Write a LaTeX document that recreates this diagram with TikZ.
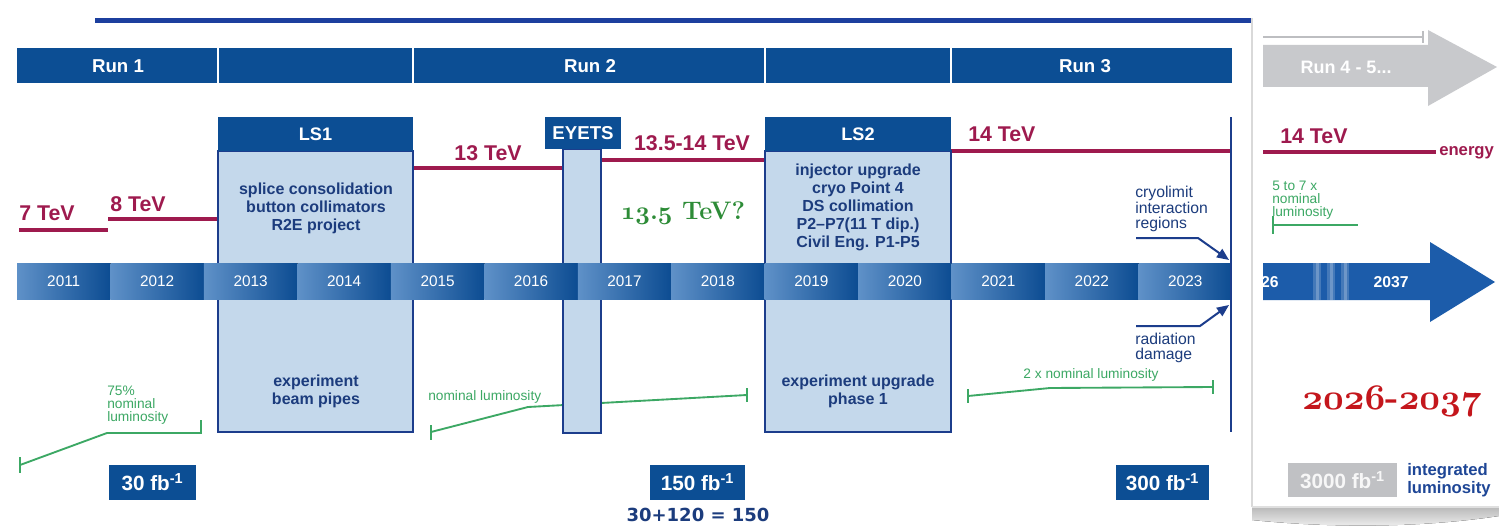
\documentclass[tikz,border=0pt]{standalone}
\usepackage{fontspec}
\setmainfont{Liberation Sans}
\newfontfamily\djv{DejaVu Sans}
\newfontfamily\lmr{Latin Modern Roman}
\DeclareFontFamily{OML}{osfb}{\skewchar\font'177}
\DeclareFontShape{OML}{osfb}{b}{it}{<-> cmmib10}{}
\newcommand\osnum[1]{{\usefont{OML}{osfb}{b}{it}#1}}
\usetikzlibrary{arrows.meta}
\definecolor{navy}{RGB}{12,78,148}
\definecolor{topblue}{RGB}{28,63,158}
\definecolor{boxfill}{RGB}{196,216,235}
\definecolor{boxline}{RGB}{28,61,140}
\definecolor{crim}{RGB}{158,26,78}
\definecolor{lgreen}{RGB}{60,168,100}
\definecolor{dgreen}{RGB}{45,140,55}
\definecolor{txtblue}{RGB}{28,60,125}
\definecolor{intblue}{RGB}{30,70,150}
\definecolor{greyarrow}{RGB}{200,201,204}
\definecolor{greybox}{RGB}{192,193,196}
\definecolor{hred}{RGB}{196,22,28}
\definecolor{ylight}{RGB}{95,145,200}
\definecolor{ydark}{RGB}{12,76,146}
\definecolor{arrowblue}{RGB}{28,92,170}
\definecolor{stripe}{RGB}{115,162,215}
\begin{document}
\begin{tikzpicture}[x=0.75pt,y=-0.75pt,
  runlbl/.style={text=white,font=\bfseries\fontsize{14}{16}\selectfont,inner sep=0pt},
  tev/.style={text=crim,font=\bfseries\fontsize{16}{18}\selectfont,inner sep=0pt},
  elin/.style={crim,line width=3pt},
  boxbody/.style={fill=boxfill,draw=boxline,line width=1.5pt},
  hdr/.style={text=white,font=\bfseries\fontsize{13.6}{15}\selectfont,inner sep=0pt},
  btxt/.style={text=txtblue,font=\bfseries\fontsize{12}{13.5}\selectfont,align=center,inner sep=0pt},
  yr/.style={text=white,font=\fontsize{11.5}{13}\selectfont,inner sep=0pt},
  gl/.style={lgreen,line width=1.4pt},
  gtxt/.style={text=lgreen,font=\fontsize{10.3}{9.9}\selectfont,align=left,inner sep=0pt},
  fbbox/.style={fill=navy,text=white,font=\bfseries\fontsize{15.5}{17}\selectfont,inner sep=0pt,minimum height=26.25pt},
  note/.style={text=txtblue,font=\fontsize{11.8}{11.4}\selectfont,align=left,inner sep=0pt},
  parr/.style={-{Triangle[length=9pt,width=7.5pt]},draw=boxline,line width=1.5pt}]
\useasboundingbox (0,0) rectangle (1499,528);
\fill[white] (0,0) rectangle (1499,528);

% top line
\coordinate (tl1) at (95,20.5);
\coordinate (tl2) at (1252,20.5);
\draw[topblue,line width=3.75pt] (tl1) -- (tl2);

% run bar
\fill[navy] (17,48) rectangle (1232,83);
\foreach \x in {218,413,765,951} \draw[white,line width=1pt] (\x,48) -- (\x,83);
\node[runlbl] (run1) at (118,66) {Run 1};
\node[runlbl] (run2) at (590,66) {Run 2};
\node[runlbl] (run3) at (1085,66) {Run 3};

% energy lines
\draw[elin] (19,230) -- (108,230);
\draw[elin] (108,219) -- (218,219);
\draw[elin] (413,168) -- (562,168);
\draw[elin] (601,160) -- (765,160);
\draw[elin] (951,151) -- (1231,151);
\node[tev,anchor=base west] (e7) at (19,220) {7 TeV};
\node[tev,anchor=base west] (e8) at (110,211) {8 TeV};
\node[tev,anchor=base] (e13) at (488,160) {13 TeV};
\node[tev,anchor=base] (e135) at (692,150) {13.5-14 TeV};
\node[tev,anchor=base west] (e14) at (968,142) {14 TeV};

% green luminosity lines
\draw[gl] (20,465) -- (107,433) -- (201,433);
\draw[gl] (20,457) -- (20,473);
\draw[gl] (201,420) -- (201,434);
\node[gtxt,anchor=west] (l75) at (107,405) {75\%\\nominal\\luminosity};
\draw[gl] (431,432) -- (528,407) -- (747,395);
\draw[gl] (431,425) -- (431,440);
\draw[gl] (747,388) -- (747,402);
\node[gtxt,anchor=west] (lnom) at (428,397) {nominal luminosity};
\draw[gl] (968,396) -- (1050,388) -- (1213,387);
\draw[gl] (968,389) -- (968,403);
\draw[gl] (1213,380) -- (1213,394);
\node[gtxt] (l2x) at (1091,375) {2 x nominal luminosity};

% shutdown boxes
\draw[boxbody] (218,151) rectangle (413,432);
\fill[navy] (218,117) rectangle (413,151);
\node[hdr] (ls1) at (315.5,134) {LS1};
\node[btxt] (ls1a) at (316,208) {splice consolidation\\button collimators\\R2E project};
\node[btxt] (ls1b) at (316,391) {experiment\\beam pipes};

\draw[boxbody] (563,149) rectangle (601,433);
\fill[navy] (545,117) rectangle (621,149);
\node[hdr,font=\bfseries\fontsize{14}{15}\selectfont] (eyets) at (583,133) {EYETS};

\draw[boxbody] (765,151) rectangle (951,432);
\fill[navy] (765,117) rectangle (951,151);
\node[hdr] (ls2) at (858,134) {LS2};
\node[btxt] (ls2a) at (858,207) {injector upgrade\\cryo Point 4\\DS collimation\\P2--P7(11 T dip.)\\Civil Eng. P1-P5};
\node[btxt] (ls2b) at (858,391) {experiment upgrade\\phase 1};

% year bar
\foreach \i in {0,...,12}{
  \pgfmathsetmacro\xa{17+93.46*\i}
  \pgfmathsetmacro\xb{17+93.46*(\i+1)}
  \pgfmathtruncatemacro\yy{2011+\i}
  \fill[left color=ylight,right color=ydark] (\xa,263) rectangle (\xb,299);
  \node[yr] (y\yy) at ({(\xa+\xb)/2},281) {\yy};
}

% end of run 3
\draw[boxline,line width=1.5pt] (1231,117) -- (1231,432);

% notes
\node[note,anchor=west] (cryo) at (1135,209) {cryolimit\\interaction\\regions};
\coordinate (c1) at (1136,238);
\coordinate (c2) at (1198,238);
\coordinate (c3) at (1229,260);
\draw[parr] (c1) -- (c2) -- (c3);
\node[note,anchor=west] (rad) at (1135,348) {radiation\\damage};
\coordinate (r1) at (1136,326);
\coordinate (r2) at (1200,326);
\coordinate (r3) at (1229,305);
\draw[parr] (r1) -- (r2) -- (r3);

\node[text=dgreen,font=\lmr\bfseries\fontsize{19}{22}\selectfont,inner sep=0pt] (q135) at (683,213) {\osnum{13}.\osnum{5} TeV?};

% integrated luminosity
\node[fbbox,minimum width=65.25pt] (fb30) at (152.5,482.5) {30 fb\textsuperscript{-1}};
\node[fbbox,minimum width=71.25pt] (fb150) at (697.5,482.5) {150 fb\textsuperscript{-1}};
\node[fbbox,minimum width=69.75pt] (fb300) at (1162.5,482.5) {300 fb\textsuperscript{-1}};
\node[text=txtblue,font=\djv\bfseries\fontsize{13.5}{15}\selectfont,inner sep=0pt] (sum) at (698,515) {30+120 = 150};

% right panel
\fill[top color=gray!55,bottom color=gray!10] (1252,507) -- (1499,507) -- (1499,516) .. controls (1420,528) and (1330,528) .. (1252,520) -- cycle;
\draw[gray!30,line width=1.8pt] (1252,18) -- (1252,507);
\draw[gray!25,line width=0.8pt] (1252,507) -- (1499,507);

\draw[greyarrow!85!gray,line width=1.3pt] (1263,37) -- (1423,37);
\draw[greyarrow!85!gray,line width=1.3pt] (1423,31) -- (1423,43);
\fill[greyarrow] (1263,45) -- (1428,45) -- (1428,30) -- (1497,67) -- (1428,106) -- (1428,87) -- (1263,87) -- cycle;
\node[runlbl,font=\bfseries\fontsize{13.5}{15}\selectfont] (run45) at (1346,67) {Run 4 - 5...};

\draw[elin] (1263,152) -- (1436,152);
\node[tev,anchor=base west] (e14b) at (1280,143) {14 TeV};
\node[text=crim,font=\bfseries\fontsize{12.5}{14}\selectfont,inner sep=0pt,anchor=base west] (energy) at (1439,155) {energy};

\node[gtxt,anchor=west] (l57) at (1272,200) {5 to 7 x\\nominal\\luminosity};
\draw[gl] (1273,225) -- (1358,225);
\draw[gl] (1273,216) -- (1273,234);

\fill[arrowblue] (1263,263) -- (1430,263) -- (1430,242) -- (1495,282) -- (1430,322) -- (1430,300) -- (1263,300) -- cycle;
\foreach \s in {1317,1331,1345}{
  \fill[white,opacity=0.18] (\s-4,263) rectangle (\s+4,300);
  \fill[white,opacity=0.22] (\s-1.5,263) rectangle (\s+1.5,300);
}
\begin{scope}
  \clip (1263,263) rectangle (1430,300);
  \node[yr,font=\bfseries\fontsize{11.8}{13}\selectfont,anchor=east] (y2026) at (1279,282) {2026};
\end{scope}
\node[yr,font=\bfseries\fontsize{11.8}{13}\selectfont] (y2037) at (1391,282) {2037};

\node[text=hred,font=\lmr\bfseries\fontsize{27}{30}\selectfont,inner sep=0pt] (hl) at (1392,401) {\osnum{2026}-\osnum{2037}};

\node[fbbox,fill=greybox,text=white!94!gray,minimum width=81.75pt,minimum height=25.5pt] (fb3000) at (1342.5,480) {3000 fb\textsuperscript{-1}};
\node[text=intblue,font=\bfseries\fontsize{12.5}{13.5}\selectfont,align=left,inner sep=0pt,anchor=west] (intl) at (1407,480) {integrated\\luminosity};
\end{tikzpicture}
\end{document}
